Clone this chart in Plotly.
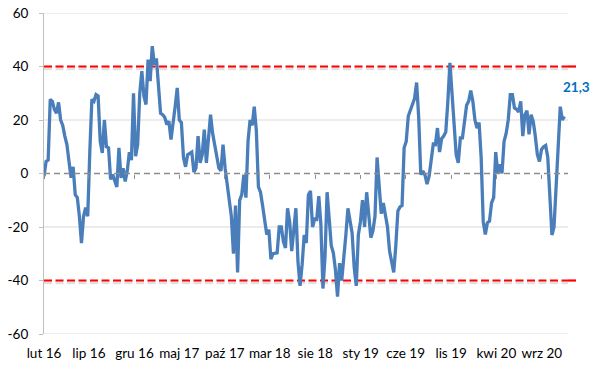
import pandas as pd
import plotly.graph_objects as go

# ---------------- data ----------------
start_date = "2016-02-01"
axis_end = "2020-11-28"

values = [
    -1, 4.5, 5, 27.7, 27, 24, 22.5, 26.6, 20, 18,
    14, 10.8, 4.6, -1.6, 2.5, -7.9, -9, -16, -26, -16,
    -12.8, -16, 8, 27.7, 27, 29.5, 29, 12, 7.7, 20,
    10, 9.6, -2.2, -0.4, -2.8, -5, 9.6, -1.6, 2, -3,
    1, 8, 5, 30, 6.5, 10.8, 30, 38.3, 29, 25.8,
    42.6, 34.5, 47.6, 40.7, 43, 33, 22.5, 22, 21, 18.3,
    19.6, 12.7, 18, 25, 32, 20, 19, 6, 2.5, 7,
    7.5, 8, 0.5, 2, 14, 4, 7, 16.4, 4, 15,
    22, 15, 10.8, 6, 2, 1, 10.8, 2, -3.5, -9,
    -16, -30, -12, -37, -10, -7.9, -0.4, -9, 12, 20,
    18, 25, 16, -5, -7, -12, -18, -22.8, -21, -32,
    -30, -30, -29.7, -20, -20, -25.5, -27.8, -13, -18, -29,
    -20, -13, -33, -42, -34, -23, -26, -8, -6.5, -20,
    -17, -17.2, -8.5, -19, -43, -31, -7, -16, -27, -29.7,
    -36, -46, -33.5, -40, -32.8, -23, -13, -18, -22.2, -35,
    -42, -23, -18, -10, -20, -7, -17, -24, -21.5, -16,
    6, -4, -15, -11, -15, -20, -29, -34, -37, -27,
    -14, -12.5, -12, 9.6, 12, 21.5, 24, 25.8, 28, 34,
    20.8, -0.4, 0.9, -0.5, -4, -1, 6, 11, 10.8, 17,
    8, 13, 14, 15.5, 27, 41.4, 30, 16, 7, 4,
    13.3, 13.3, 20.2, 25.5, 27, 31, 27, 20, 17, 19,
    6, -18, -22.8, -18.4, -17.8, -11, -9, 8, 0, 3.4,
    0, 12, 15, 20, 29.5, 29.5, 24.5, 24, 23, 27,
    14, 22, 23.5, 14.6, 22, 19.5, 14, 7, 4.5, 9,
    10, 10.5, 6, -12, -23, -20, -6, 7.1, 25, 20,
    21.3,
]
dates = pd.date_range(start_date, periods=len(values), freq="7D")

tick_labels = ["lut 16", "lip 16", "gru 16", "maj 17", "paź 17", "mar 18",
               "sie 18", "sty 19", "cze 19", "lis 19", "kwi 20", "wrz 20"]
tick_dates = pd.date_range(start_date, periods=len(tick_labels), freq="5MS")

y_ticks = [-60, -40, -20, 0, 20, 40, 60]
y_tick_labels = [str(v) for v in y_ticks]
grid_levels = [-60, -20, 20, 60]

band_levels = [40, -40]
zero_level = 0
last_label = "21,3"

FONT = "Lato, 'Liberation Sans', sans-serif"
RED_DASH = "8px,3.5px"

# ---------------- figure ----------------
fig = go.Figure()
x_span = [pd.Timestamp(start_date), pd.Timestamp(axis_end)]

# light gridlines (drawn as shapes under everything)
for g in grid_levels:
    fig.add_shape(type="line", xref="x domain", yref="y", x0=0, x1=1,
                  y0=g, y1=g, layer="below",
                  line=dict(color="#D9D9D9", width=1))

# zero dashed line (on the overlay axis that carries the small ticks)
fig.add_trace(go.Scatter(
    x=x_span, y=[zero_level, zero_level],
    mode="lines", line=dict(color="#8C8C8C", width=1.5, dash="6px,4px"),
    xaxis="x2", hoverinfo="skip", showlegend=False,
))

# red dashed bands with faint shadow
for lvl in band_levels:
    fig.add_trace(go.Scatter(
        x=x_span, y=[lvl - 0.8, lvl - 0.8], mode="lines",
        line=dict(color="rgba(0,0,0,0.12)", width=3, dash=RED_DASH),
        hoverinfo="skip", showlegend=False,
    ))
    fig.add_trace(go.Scatter(
        x=x_span, y=[lvl, lvl], mode="lines",
        line=dict(color="#FF0000", width=2.2, dash=RED_DASH),
        hoverinfo="skip", showlegend=False,
    ))
    # short continuation past the right edge of the plot area
    fig.add_shape(type="line", xref="paper", yref="y", x0=1.0, x1=1.018,
                  y0=lvl, y1=lvl, layer="above",
                  line=dict(color="#FF0000", width=2.2, dash=RED_DASH))

# main series
fig.add_trace(go.Scatter(
    x=dates, y=values, mode="lines",
    line=dict(color="#4A7EBB", width=3.3),
    showlegend=False,
))

fig.add_annotation(
    x=dates[-1], y=values[-1], text="<b>" + last_label + "</b>",
    showarrow=False, xanchor="center", yanchor="middle",
    xshift=12, yshift=30,
    font=dict(family=FONT, size=13.5, color="#0070C0"),
)

fig.update_layout(
    width=600, height=392,
    margin=dict(l=44, r=32, t=13, b=58, autoexpand=False),
    paper_bgcolor="white", plot_bgcolor="white",
    font=dict(family=FONT, size=13.5, color="#000000"),
    xaxis=dict(
        type="date", range=x_span,
        tickvals=list(tick_dates), ticktext=tick_labels,
        showgrid=False, showline=False, zeroline=False, ticks="",
        ticklabelstandoff=9, automargin=False,
    ),
    xaxis2=dict(
        type="date", range=x_span, overlaying="x",
        anchor="free", position=0.5,
        tickvals=list(tick_dates), showticklabels=False,
        ticks="outside", ticklen=4, tickwidth=1, tickcolor="#8C8C8C",
        showgrid=False, showline=False, zeroline=False, automargin=False,
    ),
    yaxis=dict(
        range=[-60, 60], tickvals=y_ticks, ticktext=y_tick_labels,
        showgrid=False,
        showline=True, linecolor="#BFBFBF", linewidth=1,
        ticks="outside", ticklen=4, tickcolor="#BFBFBF",
        zeroline=False, ticklabelstandoff=8, automargin=False,
    ),
)

fig.write_html("out.html", config={"displayModeBar": False},
               post_script="document.body.style.margin='0px';document.body.style.padding='0px';")
